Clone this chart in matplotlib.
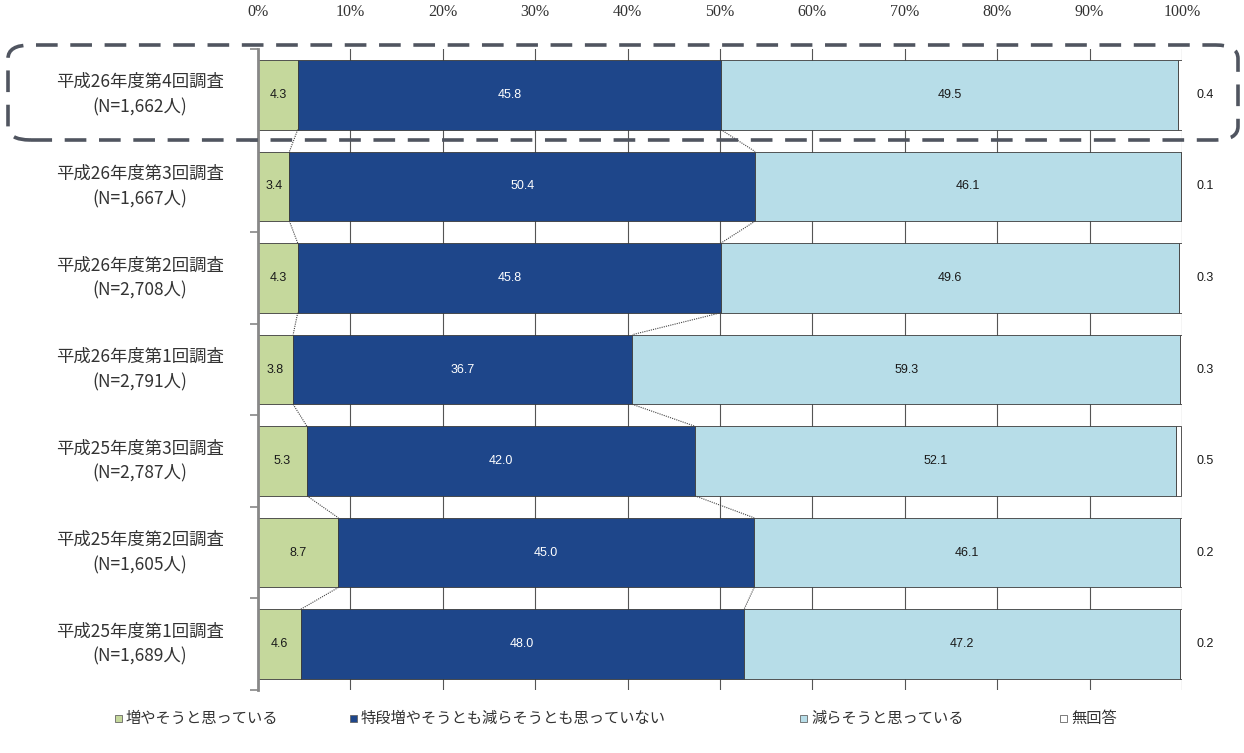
import matplotlib
matplotlib.use("Agg")
import matplotlib.pyplot as plt
from matplotlib.patches import FancyBboxPatch, Rectangle
from matplotlib.transforms import blended_transform_factory
import numpy as np

plt.rcParams['font.family'] = ['Noto Sans CJK JP', 'DejaVu Sans']

categories = [
    "平成26年度第4回調査\n(N=1,662人)",
    "平成26年度第3回調査\n(N=1,667人)",
    "平成26年度第2回調査\n(N=2,708人)",
    "平成26年度第1回調査\n(N=2,791人)",
    "平成25年度第3回調査\n(N=2,787人)",
    "平成25年度第2回調査\n(N=1,605人)",
    "平成25年度第1回調査\n(N=1,689人)",
]
increase = [4.3, 3.4, 4.3, 3.8, 5.3, 8.7, 4.6]
neither = [45.8, 50.4, 45.8, 36.7, 42.0, 45.0, 48.0]
decrease = [49.5, 46.1, 49.6, 59.3, 52.1, 46.1, 47.2]
no_answer = [0.4, 0.1, 0.3, 0.3, 0.5, 0.2, 0.2]

series_names = ["増やそうと思っている", "特段増やそうとも減らそうとも思っていない",
                "減らそうと思っている", "無回答"]
colors = ["#c5d89c", "#1e468a", "#b7dde8", "#ffffff"]
text_colors = ["#1a1a1a", "#ffffff", "#1a1a1a"]
tick_values = list(range(0, 101, 10))
tick_labels = [f"{v}%" for v in tick_values]

W, H = 1244, 753
fig = plt.figure(figsize=(W / 100, H / 100), dpi=100)
ax = fig.add_axes([258 / W, 1 - 690 / H, (1182 - 258) / W, (690 - 49) / H])

y = np.arange(len(categories))
bar_h = 0.76
series = [increase, neither, decrease, no_answer]
left = np.zeros(len(categories))
bounds = []
for k, vals in enumerate(series):
    vals = np.array(vals)
    ax.barh(y, vals, left=left, height=bar_h, color=colors[k],
            edgecolor="#3a3a3a", linewidth=0.6, zorder=3)
    if k < 3:
        for yi, (l, v) in enumerate(zip(left, vals)):
            ax.text(l + v / 2, yi, f"{v:.1f}", ha="center", va="center",
                    fontsize=9, color=text_colors[k], family="Liberation Sans",
                    zorder=5)
    left = left + vals
    bounds.append(left.copy())

# no-answer values to the right of each bar
for yi, v in enumerate(no_answer):
    ax.text(102.5, yi, f"{v:.1f}", ha="center", va="center", fontsize=9,
            color="#1a1a1a", family="Liberation Sans", clip_on=False)

# series lines joining segment boundaries of adjacent bars
for b in bounds[:2]:
    for i in range(len(categories) - 1):
        ax.plot([b[i], b[i + 1]], [i + bar_h / 2, i + 1 - bar_h / 2],
                color="#444444", linestyle=(0, (1, 1)), linewidth=0.8, zorder=4)

ax.set_xlim(0, 100)
ax.set_ylim(len(categories) - 0.5, -0.5)
ax.xaxis.tick_top()
ax.set_xticks(tick_values)
ax.set_xticklabels(tick_labels, family="Liberation Serif", fontsize=11.5,
                   color="#333333")
ax.tick_params(axis="x", length=0, pad=21)
ax.set_yticks(np.arange(len(categories) + 1) - 0.5)
ax.set_yticklabels([])
ax.tick_params(axis="y", length=6, width=1.2, color="#888888", direction="out")
ax.grid(axis="x", color="#555555", linewidth=0.8, zorder=0)
for s in ["top", "right", "bottom"]:
    ax.spines[s].set_visible(False)
ax.spines["left"].set_color("#888888")
ax.spines["left"].set_linewidth(2)
ax.spines["left"].set_zorder(6)

trans = blended_transform_factory(ax.transAxes, ax.transData)
for yi, lab in enumerate(categories):
    ax.text((140 - 258) / (1182 - 258), yi, lab, transform=trans, ha="center",
            va="center", multialignment="center", fontsize=12.5, color="#333333",
            linespacing=1.5)

# dashed rounded frame highlighting the latest survey
frame = FancyBboxPatch((8 / W, 1 - 140 / H), (1238 - 8) / W, (140 - 45) / H,
                       boxstyle="round,pad=0,rounding_size=0.018",
                       transform=fig.transFigure, fill=False,
                       edgecolor="#505560", linewidth=2.6,
                       linestyle=(0, (6, 3.5)), zorder=10)
fig.patches.append(frame)

# legend row
legend_x = [115, 350, 800, 1060]
ly = 1 - 718 / H
for x0, name, c in zip(legend_x, series_names, colors):
    fig.patches.append(Rectangle((x0 / W, ly - 3.5 / H), 7 / W, 7 / H,
                                 transform=fig.transFigure, facecolor=c,
                                 edgecolor="#666666", linewidth=0.6))
    fig.text((x0 + 11) / W, ly, name, ha="left", va="center", fontsize=11,
             color="#333333")

fig.savefig("out.png", dpi=100, facecolor="white")
